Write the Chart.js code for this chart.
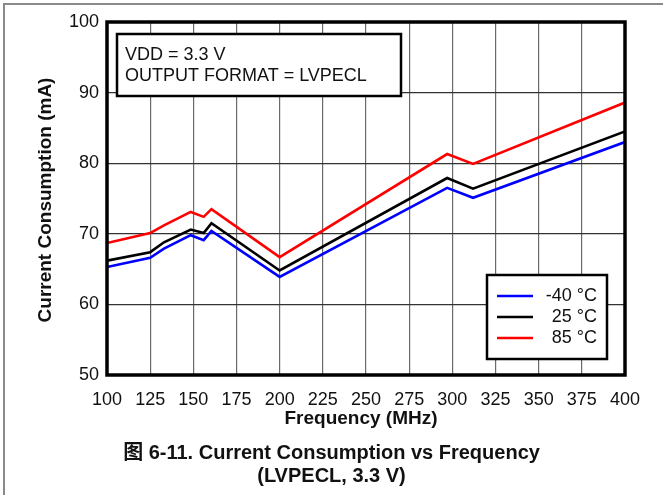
<!DOCTYPE html>
<html>
<head>
<meta charset="utf-8">
<script src="https://cdn.jsdelivr.net/npm/chart.js@4"></script>
<style>
  html, body { margin: 0; padding: 0; background: #fff; }
  body { width: 663px; height: 495px; position: relative; overflow: hidden;
         font-family: "Liberation Sans", Arial, "Noto Sans CJK SC", sans-serif; }
  #frame { position: absolute; left: 3px; top: 3px; width: 670px; height: 500px;
           border-top: 2px solid #8a8a8a; border-left: 2px solid #8a8a8a; }
  #wrap { position: absolute; left: 0; top: 0; width: 663px; height: 495px; }
  .cap { position: absolute; left: 0; width: 663px; text-align: center; font-weight: bold;
         font-size: 20px; color: #111; line-height: 22px; }
</style>
</head>
<body>
<div id="frame"></div>
<div id="wrap"><canvas id="myChart" width="663" height="495"></canvas></div>
<div class="cap" style="top:441px">图 6-11. Current Consumption vs Frequency</div>
<div class="cap" style="top:464px">(LVPECL, 3.3 V)</div>
<script>
// 数据
var freq = [100, 125, 133, 148.5, 156, 160.5, 200, 297, 312, 400];
var tempM40 = [65.3, 66.6, 67.9, 69.8, 69.1, 70.4, 63.9, 76.5, 75.1, 83.0];
var temp25 = [66.2, 67.4, 68.8, 70.6, 70.1, 71.5, 64.8, 77.9, 76.4, 84.5];
var temp85 = [68.7, 70.1, 71.2, 73.1, 72.4, 73.5, 66.7, 81.3, 79.9, 88.6];
var seriesLabels = ['-40 °C', '25 °C', '85 °C'];
var seriesColors = ['#0000ff', '#000000', '#ff0000'];
var xTicks = [100, 125, 150, 175, 200, 225, 250, 275, 300, 325, 350, 375, 400];
var yTicks = [50, 60, 70, 80, 90, 100];
var noteLines = ['VDD = 3.3 V', 'OUTPUT FORMAT = LVPECL'];

var FONT = '"Liberation Sans", Arial, sans-serif';

function toPoints(vals) {
  return freq.map(function (f, i) { return { x: f, y: vals[i] }; });
}

// 边框、注释框、图例、坐标轴标题
var extras = {
  id: 'extras',
  afterDatasetsDraw: function (chart) {
    var ctx = chart.ctx;
    var a = chart.chartArea;
    ctx.save();
    // plot frame
    ctx.strokeStyle = '#000';
    ctx.lineWidth = 3.5;
    ctx.strokeRect(a.left, a.top, a.right - a.left, a.bottom - a.top);

    // note box
    ctx.fillStyle = '#fff';
    ctx.fillRect(117, 34, 284, 62);
    ctx.lineWidth = 2.5;
    ctx.strokeRect(117, 34, 284, 62);
    ctx.fillStyle = '#111';
    ctx.font = '18px ' + FONT;
    ctx.textAlign = 'left';
    ctx.textBaseline = 'middle';
    ctx.fillText(noteLines[0], 125, 55);
    ctx.fillText(noteLines[1], 125, 76);

    // legend box
    ctx.fillStyle = '#fff';
    ctx.fillRect(487, 275, 120, 84);
    ctx.strokeStyle = '#000';
    ctx.strokeRect(487, 275, 120, 84);
    var rows = [296, 317, 338];
    for (var i = 0; i < 3; i++) {
      ctx.strokeStyle = seriesColors[i];
      ctx.lineWidth = 2.5;
      ctx.beginPath();
      ctx.moveTo(497, rows[i]);
      ctx.lineTo(533, rows[i]);
      ctx.stroke();
      ctx.fillStyle = '#111';
      ctx.textAlign = 'right';
      ctx.fillText(seriesLabels[i], 597, rows[i]);
    }

    // axis titles
    ctx.fillStyle = '#111';
    ctx.font = 'bold 19px ' + FONT;
    ctx.textAlign = 'center';
    ctx.fillText('Frequency (MHz)', 361, 419);
    ctx.translate(46, 200);
    ctx.rotate(-Math.PI / 2);
    ctx.fillText('Current Consumption (mA)', 0, 0);
    ctx.restore();
  }
};

var myChart = document.getElementById('myChart').getContext('2d');
new Chart(myChart, {
  type: 'line',
  data: {
    datasets: [tempM40, temp25, temp85].map(function (vals, i) {
      return {
        label: seriesLabels[i],
        data: toPoints(vals),
        borderColor: seriesColors[i],
        borderWidth: 2.6,
        pointRadius: 0,
        tension: 0,
        fill: false
      };
    })
  },
  options: {
    responsive: false,
    animation: false,
    devicePixelRatio: 1,
    layout: { padding: { left: 0, top: 22, right: 38, bottom: 0 } },
    plugins: { legend: { display: false }, tooltip: { enabled: false } },
    scales: {
      x: {
        type: 'linear',
        min: 100,
        max: 400,
        afterBuildTicks: function (s) { s.ticks = xTicks.map(function (v) { return { value: v }; }); },
        afterFit: function (s) { s.height = 120; },
        grid: { color: '#6a6a6a', lineWidth: 1.2, drawTicks: false },
        border: { display: false },
        ticks: { color: '#111', font: { size: 18, family: FONT }, padding: 14, maxRotation: 0 }
      },
      y: {
        min: 50,
        max: 100,
        afterBuildTicks: function (s) { s.ticks = yTicks.map(function (v) { return { value: v }; }); },
        afterFit: function (s) { s.width = 107; },
        grid: { color: '#333', lineWidth: 1.2, drawTicks: false },
        border: { display: false },
        ticks: { color: '#111', font: { size: 18, family: FONT }, padding: 8 }
      }
    }
  },
  plugins: [extras]
});
</script>
</body>
</html>
